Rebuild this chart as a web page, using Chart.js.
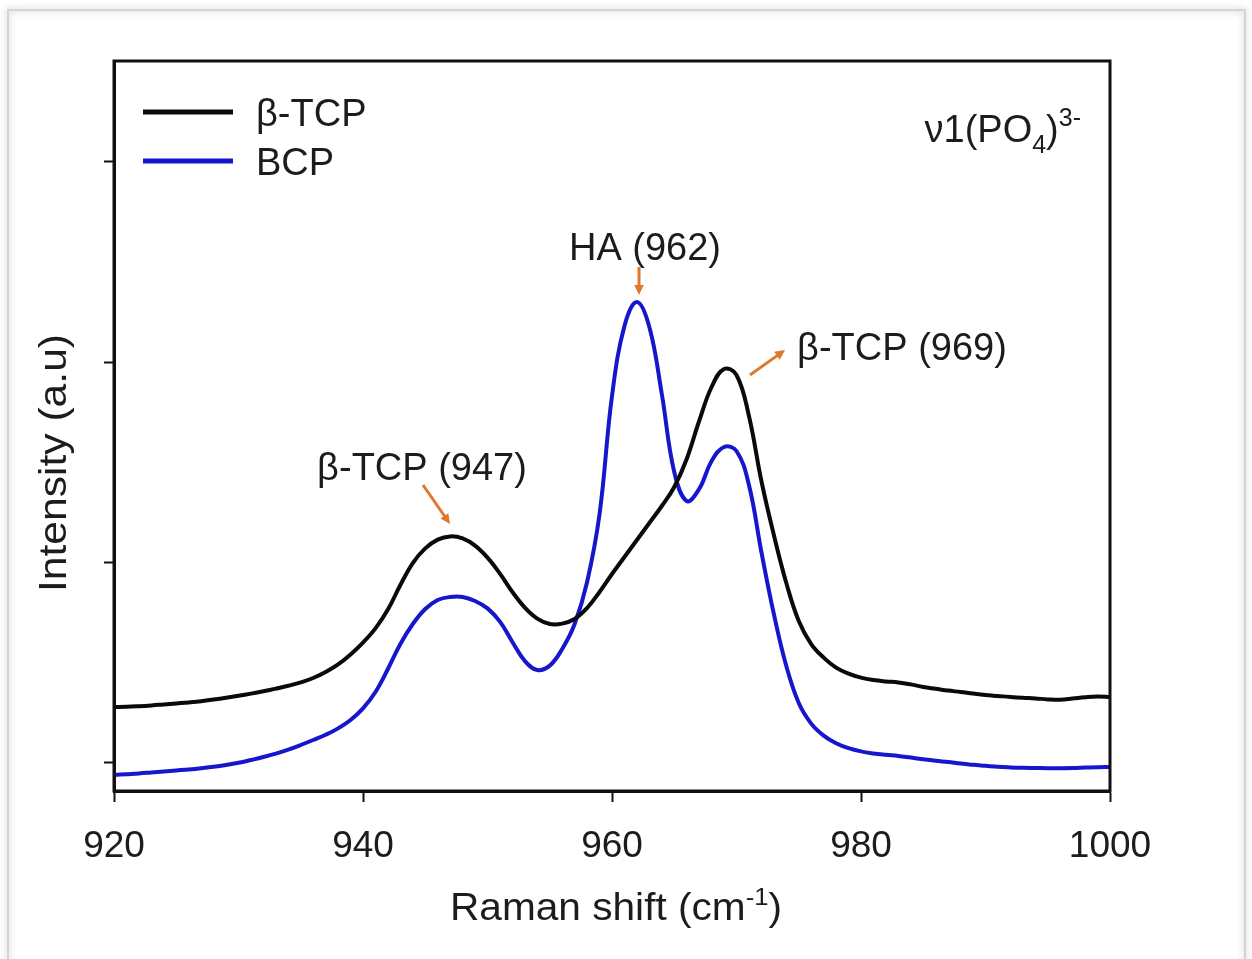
<!DOCTYPE html>
<html>
<head>
<meta charset="utf-8">
<script src="https://cdn.jsdelivr.net/npm/chart.js@4.4.1/dist/chart.umd.min.js"></script>
<style>
html, body { margin: 0; padding: 0; background: #fff; }
canvas { display: block; }
</style>
</head>
<body>
<canvas id="chart" width="1252" height="959"></canvas>
<script>
// Raman spectra, v1(PO4)3- region
const ramanShift = [
  920, 921, 922, 923, 924, 925, 926, 927, 928, 929,
  930, 931, 932, 933, 934, 935, 936, 937, 938, 939,
  940, 941, 942, 943, 944, 945, 946, 947, 948, 949,
  950, 951, 952, 953, 954, 955, 956, 957, 958, 959,
  960, 961, 962, 963, 964, 965, 966, 967, 968, 969,
  970, 971, 972, 973, 974, 975, 976, 977, 978, 979,
  980, 981, 982, 983, 984, 985, 986, 987, 988, 989,
  990, 991, 992, 993, 994, 995, 996, 997, 998, 999, 1000
];
const tcpIntensity = [
  0.275, 0.276, 0.279, 0.283, 0.288, 0.293, 0.298, 0.304, 0.312, 0.321,
  0.331, 0.342, 0.354, 0.367, 0.381, 0.398, 0.420, 0.450, 0.488, 0.538,
  0.597, 0.668, 0.762, 0.885, 0.995, 1.068, 1.112, 1.128, 1.118, 1.082,
  1.022, 0.942, 0.850, 0.772, 0.717, 0.690, 0.692, 0.715, 0.770, 0.850,
  0.940, 1.025, 1.110, 1.195, 1.280, 1.375, 1.515, 1.705, 1.875, 1.965,
  1.935, 1.730, 1.405, 1.135, 0.895, 0.705, 0.590, 0.522, 0.472, 0.442,
  0.422, 0.410, 0.403, 0.398, 0.388, 0.375, 0.366, 0.357, 0.350, 0.342,
  0.335, 0.330, 0.325, 0.321, 0.318, 0.313, 0.311, 0.317, 0.324, 0.328, 0.325
];
const bcpIntensity = [
  -0.065, -0.061, -0.057, -0.052, -0.047, -0.042, -0.037, -0.031, -0.024, -0.015,
  -0.004, 0.010, 0.025, 0.042, 0.062, 0.085, 0.110, 0.136, 0.168, 0.210,
  0.268, 0.350, 0.465, 0.590, 0.690, 0.765, 0.810, 0.825, 0.825, 0.805,
  0.768, 0.702, 0.600, 0.505, 0.460, 0.482, 0.565, 0.690, 0.900, 1.240,
  1.830, 2.180, 2.300, 2.175, 1.840, 1.450, 1.305, 1.365, 1.505, 1.575,
  1.555, 1.385, 1.050, 0.740, 0.480, 0.295, 0.192, 0.132, 0.094, 0.069,
  0.053, 0.043, 0.036, 0.030, 0.022, 0.014, 0.006, 0.000, -0.008, -0.014,
  -0.019, -0.024, -0.027, -0.029, -0.030, -0.031, -0.031, -0.030, -0.028, -0.026, -0.025
];
const seriesLabels = ['β-TCP', 'BCP'];
const xTicks = [920, 940, 960, 980, 1000];
const yTicks = [0, 1, 2, 3];

// peak notes, placed in data units: text centre/baseline and arrow tail -> head
const peakNotes = [
  { text: 'β-TCP (947)', tx: 944.74, ty: 1.41, from: [944.82, 1.385], to: [946.99, 1.19] },
  { text: 'HA (962)', tx: 962.65, ty: 2.51, from: [962.17, 2.475], to: [962.17, 2.335] },
  { text: 'β-TCP (969)', tx: 983.29, ty: 2.01, from: [971.08, 1.935], to: [973.9, 2.06] }
];

const FONT = '"Liberation Sans", Arial, sans-serif';
const TEXT = '#1c1c1c';
const ORANGE = '#e0782c';
const colors = ['#0a0a0a', '#1616cc'];

function toPoints(ys) {
  return ramanShift.map((x, i) => ({ x: x, y: ys[i] }));
}

// draw a run of text pieces [{t, size, dy}] starting at (x, y) baseline, optionally stretched to width
function drawRuns(ctx, runs, x, y, align, width) {
  let total = 0;
  const widths = runs.map(r => {
    ctx.font = r.size + 'px ' + FONT;
    const w = ctx.measureText(r.t).width;
    total += w;
    return w;
  });
  const sx = width ? width / total : 1;
  const w = total * sx;
  let start = x;
  if (align === 'center') start = x - w / 2;
  if (align === 'right') start = x - w;
  ctx.save();
  ctx.translate(start, y);
  ctx.scale(sx, 1);
  ctx.textBaseline = 'alphabetic';
  ctx.textAlign = 'left';
  let cx = 0;
  runs.forEach((r, i) => {
    ctx.font = r.size + 'px ' + FONT;
    ctx.fillText(r.t, cx, r.dy || 0);
    cx += widths[i];
  });
  ctx.restore();
}

function arrow(ctx, x1, y1, x2, y2) {
  const ang = Math.atan2(y2 - y1, x2 - x1);
  const head = 11;
  ctx.save();
  ctx.strokeStyle = ORANGE;
  ctx.fillStyle = ORANGE;
  ctx.lineWidth = 3;
  ctx.beginPath();
  ctx.moveTo(x1, y1);
  ctx.lineTo(x2 - Math.cos(ang) * head * 0.8, y2 - Math.sin(ang) * head * 0.8);
  ctx.stroke();
  ctx.beginPath();
  ctx.moveTo(x2, y2);
  ctx.lineTo(x2 - head * Math.cos(ang - 0.45), y2 - head * Math.sin(ang - 0.45));
  ctx.lineTo(x2 - head * Math.cos(ang + 0.45), y2 - head * Math.sin(ang + 0.45));
  ctx.closePath();
  ctx.fill();
  ctx.restore();
}

const decorations = {
  id: 'decorations',
  beforeDraw(chart) {
    const ctx = chart.ctx;
    ctx.save();
    ctx.fillStyle = '#fff';
    ctx.fillRect(0, 0, chart.width, chart.height);
    // soft outer frame of the figure
    ctx.shadowColor = 'rgba(0,0,0,0.28)';
    ctx.shadowBlur = 7;
    ctx.strokeStyle = '#d4d4d4';
    ctx.lineWidth = 2;
    ctx.strokeRect(8, 10, 1237, 970);
    ctx.restore();
  },
  afterDraw(chart) {
    const { ctx, chartArea: a, scales: { x, y } } = chart;
    ctx.save();
    // plot box
    ctx.strokeStyle = '#111';
    ctx.lineWidth = 3;
    ctx.strokeRect(a.left, a.top, a.right - a.left, a.bottom - a.top);

    // legend
    chart.data.datasets.forEach((ds, i) => {
      const ly = 112 + i * 49;
      ctx.strokeStyle = ds.borderColor;
      ctx.lineWidth = 5;
      ctx.beginPath();
      ctx.moveTo(143, ly);
      ctx.lineTo(233, ly);
      ctx.stroke();
      ctx.fillStyle = TEXT;
      drawRuns(ctx, [{ t: ds.label, size: 38 }], 256, ly + 14, 'left');
    });

    // band label
    ctx.fillStyle = TEXT;
    drawRuns(ctx, [
      { t: 'ν1(PO', size: 38 },
      { t: '4', size: 25, dy: 11 },
      { t: ')', size: 38 },
      { t: '3-', size: 25, dy: -16 }
    ], x.getPixelForValue(985.1), y.getPixelForValue(3.1), 'left');

    // peak notes
    peakNotes.forEach(n => {
      ctx.fillStyle = TEXT;
      drawRuns(ctx, [{ t: n.text, size: 38 }], x.getPixelForValue(n.tx), y.getPixelForValue(n.ty), 'center');
      arrow(ctx, x.getPixelForValue(n.from[0]), y.getPixelForValue(n.from[1]),
        x.getPixelForValue(n.to[0]), y.getPixelForValue(n.to[1]));
    });

    // axis titles
    ctx.fillStyle = TEXT;
    drawRuns(ctx, [
      { t: 'Raman shift (cm', size: 38 },
      { t: '-1', size: 24, dy: -15 },
      { t: ')', size: 38 }
    ], (a.left + a.right) / 2 + 4, 920, 'center', 332);

    ctx.save();
    ctx.translate(66, 463);
    ctx.rotate(-Math.PI / 2);
    drawRuns(ctx, [{ t: 'Intensity (a.u)', size: 38 }], 0, 0, 'center', 258);
    ctx.restore();

    ctx.restore();
  }
};

new Chart(document.getElementById('chart'), {
  type: 'line',
  data: {
    datasets: [
      {
        label: seriesLabels[0],
        data: toPoints(tcpIntensity),
        borderColor: colors[0],
        borderWidth: 4,
        pointRadius: 0,
        tension: 0.4,
        fill: false
      },
      {
        label: seriesLabels[1],
        data: toPoints(bcpIntensity),
        borderColor: colors[1],
        borderWidth: 4,
        pointRadius: 0,
        tension: 0.4,
        fill: false
      }
    ]
  },
  options: {
    responsive: false,
    animation: false,
    devicePixelRatio: 1,
    layout: { padding: { top: 61, right: 142, left: 0, bottom: 0 } },
    plugins: { legend: { display: false }, tooltip: { enabled: false } },
    scales: {
      x: {
        type: 'linear',
        min: 920,
        max: 1000,
        afterFit: s => { s.height = 168; },
        afterBuildTicks: s => { s.ticks = xTicks.map(v => ({ value: v })); },
        grid: { drawOnChartArea: false, drawTicks: true, tickLength: 11, tickWidth: 2, tickColor: '#111' },
        border: { display: true, color: '#111', width: 3 },
        ticks: {
          padding: 23,
          maxRotation: 0,
          color: TEXT,
          font: { family: FONT, size: 37 },
          callback: v => String(v)
        }
      },
      y: {
        type: 'linear',
        min: -0.145,
        max: 3.505,
        afterFit: s => { s.width = 114; },
        afterBuildTicks: s => { s.ticks = yTicks.map(v => ({ value: v })); },
        grid: { drawOnChartArea: false, drawTicks: true, tickLength: 10, tickWidth: 2, tickColor: '#111' },
        border: { display: true, color: '#111', width: 3 },
        ticks: { display: false }
      }
    }
  },
  plugins: [decorations]
});
</script>
</body>
</html>
